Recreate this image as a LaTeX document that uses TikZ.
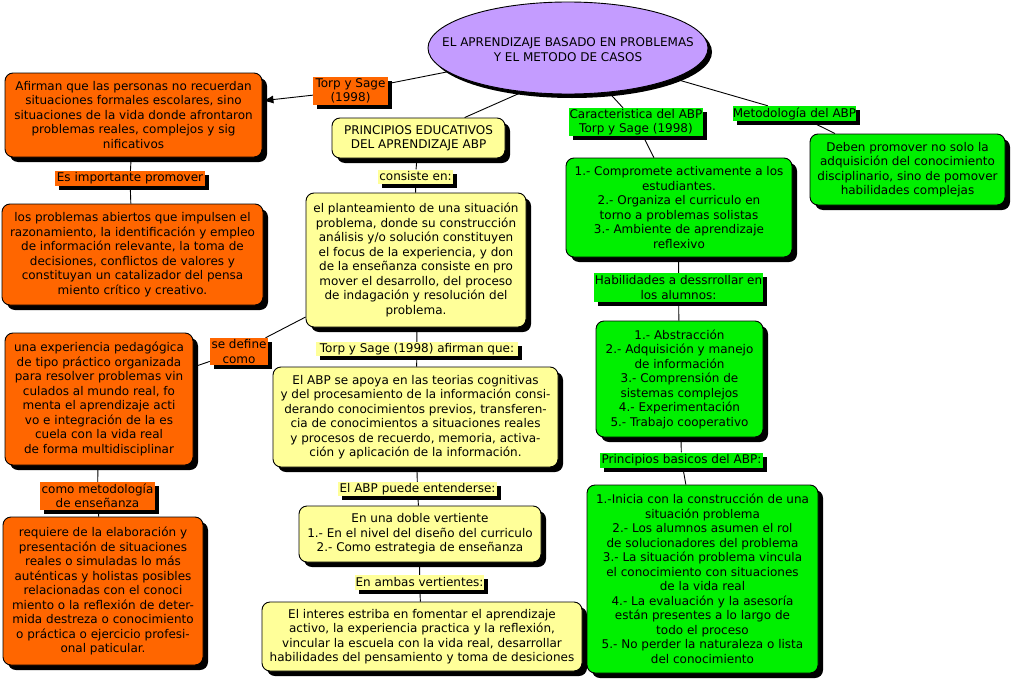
\documentclass[tikz,border=0pt]{standalone}
\usepackage{fontspec}
\setmainfont{DejaVu Sans}
\usetikzlibrary{shapes.geometric,shadows,arrows.meta}
\definecolor{orng}{HTML}{FF6600}
\definecolor{ylw}{HTML}{FFFF99}
\definecolor{grn}{HTML}{00F000}
\definecolor{lav}{HTML}{C49CFF}
\pgfdeclarelayer{bg}
\pgfsetlayers{bg,main}
\begin{document}
\begin{tikzpicture}[x=1pt,y=-1pt,
  font=\fontsize{12}{14.5}\selectfont,
  shd/.style={drop shadow={shadow xshift=5pt,shadow yshift=-5pt,fill=black,opacity=1}},
  lshd/.style={drop shadow={shadow xshift=4pt,shadow yshift=-4pt,fill=black,opacity=1}},
  box/.style={draw=black,line width=0.9pt,rounded corners=8pt,align=center,inner sep=0pt,shd},
  ob/.style={box,fill=orng},
  yb/.style={box,fill=ylw},
  gb/.style={box,fill=grn},
  lbl/.style={align=center,inner sep=0pt,lshd},
  ol/.style={lbl,fill=orng},
  yl/.style={lbl,fill=ylw},
  gl/.style={lbl,fill=grn},
  conn/.style={draw=black,line width=0.9pt}
]
\useasboundingbox (0,0) rectangle (1012,680);
\begin{pgfonlayer}{bg}
\fill[white] (0,0) rectangle (1012,680);
\end{pgfonlayer}

% central ellipse
\node[ellipse,draw=black,line width=0.9pt,fill=lav,minimum width=280pt,minimum height=92pt,inner sep=0pt,
  drop shadow={shadow xshift=4pt,shadow yshift=-4pt,fill=black,opacity=1}] (ell) at (568,48)
  {\makebox[0pt]{\rule{0pt}{24pt}\begin{tabular}{@{}c@{}}EL APRENDIZAJE BASADO EN PROBLEMAS\\Y EL METODO DE CASOS\end{tabular}}};

% left orange column
\node[ob,minimum width=257pt,minimum height=84pt] (o1) at (133.5,115)
  {Afirman que las personas no recuerdan\\situaciones formales escolares, sino\\situaciones de la vida donde afrontaron\\problemas reales, complejos y sig\\nificativos};
\node[ol,minimum width=150pt,minimum height=15pt] (l1) at (130,178.5) {Es importante promover};
\node[ob,minimum width=261pt,minimum height=101pt] (o2) at (132.5,254.5)
  {los problemas abiertos que impulsen el\\razonamiento, la identificación y empleo\\de información relevante, la toma de\\decisiones, conflictos de valores y\\constituyan un catalizador del pensa\\miento crítico y creativo.};
\node[ol,minimum width=75pt,minimum height=28pt] (torp) at (350.5,91) {Torp y Sage\\(1998)};
\node[ol,minimum width=58pt,minimum height=27pt] (sedef) at (239,351.5) {se define\\como};
\node[ob,minimum width=188pt,minimum height=132pt] (o3) at (99,399)
  {una experiencia pedagógica\\de tipo práctico organizada\\para resolver problemas vin\\culados al mundo real, fo\\menta el aprendizaje acti\\vo e integración de la es\\cuela con la vida real\\de forma multidisciplinar};
\node[ol,minimum width=115pt,minimum height=28pt] (l2) at (97.5,496) {como metodología\\de enseñanza};
\node[ob,minimum width=200pt,minimum height=148pt] (o4) at (103,591)
  {requiere de la elaboración y\\presentación de situaciones\\reales o simuladas lo más\\auténticas y holistas posibles\\relacionadas con el conoci\\miento o la reflexión de deter-\\mida destreza o conocimiento\\o práctica o ejercicio profesi-\\onal paticular.};

% middle yellow column
\node[yb,minimum width=173pt,minimum height=40pt] (princ) at (418.5,138)
  {PRINCIPIOS EDUCATIVOS\\DEL APRENDIZAJE ABP};
\node[yl,minimum width=75pt,minimum height=14pt] (l3) at (415.5,176.5) {consiste en:};
\node[yb,minimum width=220pt,minimum height=134pt] (y3) at (416,260)
  {el planteamiento de una situación\\problema, donde su construcción\\análisis y/o solución constituyen\\el focus de la experiencia, y don\\de la enseñanza consiste en pro\\mover el desarrollo, del proceso\\de indagación y resolución del\\problema.};
\node[yl,minimum width=202pt,minimum height=14pt] (l4) at (417,349) {Torp y Sage (1998) afirman que:};
\node[yb,minimum width=285pt,minimum height=100pt] (y4) at (415.5,417)
  {El ABP se apoya en las teorias cognitivas\\y del procesamiento de la información consi-\\derando conocimientos previos, transferen-\\cia de conocimientos a situaciones reales\\y procesos de recuerdo, memoria, activa-\\ción y aplicación de la información.};
\node[yl,minimum width=159pt,minimum height=14pt] (l5) at (417.5,489) {El ABP puede entenderse:};
\node[yb,minimum width=242pt,minimum height=56pt] (y5) at (420,534)
  {En una doble vertiente\\1.- En el nivel del diseño del curriculo\\2.- Como estrategia de enseñanza};
\node[yl,minimum width=129pt,minimum height=15pt] (l6) at (419.5,582.5) {En ambas vertientes:};
\node[yb,minimum width=320pt,minimum height=69pt] (y6) at (422,636.5)
  {El interes estriba en fomentar el aprendizaje\\activo, la experiencia practica y la reflexión,\\vincular la escuela con la vida real, desarrollar\\habilidades del pensamiento y toma de desiciones};

% right green column
\node[gl,minimum width=134pt,minimum height=28pt] (car) at (636,122) {Caracteristica del ABP\\Torp y Sage (1998)};
\node[gb,minimum width=226pt,minimum height=99pt] (g1) at (679,207.5)
  {1.- Compromete activamente a los\\estudiantes.\\2.- Organiza el curriculo en\\torno a problemas solistas\\3.- Ambiente de aprendizaje\\reflexivo};
\node[gl,minimum width=169pt,minimum height=29pt] (hab) at (678.5,287.5) {Habilidades a dessrrollar en\\los alumnos:};
\node[gb,minimum width=167pt,minimum height=116pt] (g2) at (679.5,379)
  {1.- Abstracción\\2.- Adquisición y manejo\\de información\\3.- Comprensión de\\sistemas complejos\\4.- Experimentación\\5.- Trabajo cooperativo};
\node[gl,minimum width=163pt,minimum height=15pt] (pb) at (681.5,460) {Principios basicos del ABP:};
\node[gb,minimum width=231pt,minimum height=188pt] (g3) at (702.5,579)
  {1.-Inicia con la construcción de una\\situación problema\\2.- Los alumnos asumen el rol\\de solucionadores del problema\\3.- La situación problema vincula\\el conocimiento con situaciones\\de la vida real\\4.- La evaluación y la asesoría\\están presentes a lo largo de\\todo el proceso\\5.- No perder la naturaleza o lista\\del conocimiento};
\node[gl,minimum width=123pt,minimum height=15pt] (met) at (794.5,113.5) {Metodología del ABP};
\node[gb,minimum width=195pt,minimum height=71pt] (g4) at (907.5,169.5)
  {Deben promover no solo la\\adquisición del conocimiento\\disciplinario, sino de pomover\\habilidades complejas};

% connectors
\begin{pgfonlayer}{bg}
\draw[conn] (ell) -- (torp);
\draw[conn] (o1) -- (l1);
\draw[conn] (l1) -- (o2);
\draw[conn] (ell.224) -- (princ);
\draw[conn] (princ) -- (l3);
\draw[conn] (l3) -- (y3);
\draw[conn] (y3) -- (sedef);
\draw[conn] (sedef) -- (o3);
\draw[conn] (o3) -- (l2);
\draw[conn] (l2) -- (o4);
\draw[conn] (y3) -- (l4);
\draw[conn] (l4) -- (y4);
\draw[conn] (y4) -- (l5);
\draw[conn] (l5) -- (y5);
\draw[conn] (y5) -- (l6);
\draw[conn] (l6) -- (y6);
\draw[conn] (ell) -- (car);
\draw[conn] (car) -- (g1);
\draw[conn] (g1) -- (hab);
\draw[conn] (hab) -- (g2);
\draw[conn] (g2) -- (pb);
\draw[conn] (pb) -- (g3);
\draw[conn] (ell) -- (met);
\draw[conn] (met) -- (g4);
\end{pgfonlayer}
\draw[conn,-{Latex[length=11pt,width=8pt]}] (torp) -- (o1);
\end{tikzpicture}
\end{document}
